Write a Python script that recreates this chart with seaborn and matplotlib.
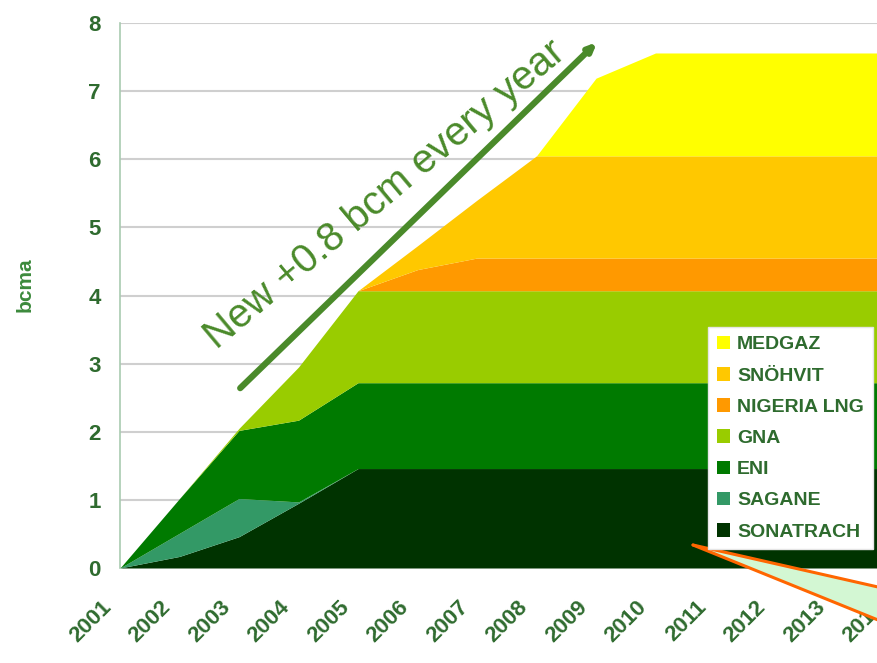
import numpy as np
import pandas as pd
import matplotlib
matplotlib.use("Agg")
import matplotlib.pyplot as plt
from matplotlib.patches import Polygon
from matplotlib.transforms import ScaledTranslation
import seaborn as sns

years = list(range(2001, 2015))
sonatrach = [0, 0.17, 0.46, 0.95, 1.46, 1.46, 1.46, 1.46, 1.46, 1.46, 1.46, 1.46, 1.46, 1.46]
sagane    = [0, 0.34, 0.56, 0.02, 0, 0, 0, 0, 0, 0, 0, 0, 0, 0]
eni       = [0, 0.51, 1.00, 1.20, 1.26, 1.26, 1.26, 1.26, 1.26, 1.26, 1.26, 1.26, 1.26, 1.26]
gna       = [0, 0, 0.03, 0.78, 1.35, 1.35, 1.35, 1.35, 1.35, 1.35, 1.35, 1.35, 1.35, 1.35]
nigeria   = [0, 0, 0, 0, 0, 0.31, 0.48, 0.48, 0.48, 0.48, 0.48, 0.48, 0.48, 0.48]
snohvit   = [0, 0, 0, 0, 0, 0.35, 0.85, 1.50, 1.50, 1.50, 1.50, 1.50, 1.50, 1.50]
medgaz    = [0, 0, 0, 0, 0, 0, 0, 0, 1.14, 1.51, 1.51, 1.51, 1.51, 1.51]

series_names = ["SONATRACH", "SAGANE", "ENI", "GNA", "NIGERIA LNG", "SNÖHVIT", "MEDGAZ"]
series_values = [sonatrach, sagane, eni, gna, nigeria, snohvit, medgaz]
colors = ["#003300", "#339966", "#007A00", "#99CC00", "#FF9900", "#FFC800", "#FFFF00"]

y_ticks = list(range(0, 9))
annotation_text = "New +0.8 bcm every year"

df = pd.DataFrame({"year": years})
for n, v in zip(series_names, series_values):
    df[n] = v

sns.set_style("white")
plt.rcParams["font.family"] = ["Liberation Sans", "DejaVu Sans"]

tick_green = "#2F6B2F"
text_green = "#4A8A2A"

fig = plt.figure(figsize=(8.78, 6.63), dpi=100)
W, H = 878, 663
left_px, right_px, top_px, bot_px = 120, 893.5, 23, 568
ax = fig.add_axes([left_px / W, 1 - bot_px / H, (right_px - left_px) / W, (bot_px - top_px) / H])

ax.stackplot(df["year"], *[df[n] for n in series_names], colors=colors,
             labels=series_names, linewidth=0, zorder=2)

ax.set_xlim(2001, 2014)
ax.set_ylim(0, 8)
ax.set_yticks(y_ticks)
ax.set_xticks(years)
ax.grid(axis="y", color="#CFCFCF", linewidth=1.5, zorder=0)
ax.set_axisbelow(True)

for s in ["top", "right", "bottom"]:
    ax.spines[s].set_visible(False)
ax.spines["left"].set_color("#A9CBB0")
ax.spines["left"].set_linewidth(1.2)

ax.tick_params(axis="y", length=7, color="#BBBBBB", width=1.2, pad=7,
               labelsize=16, labelcolor=tick_green)
ax.tick_params(axis="x", length=5, color="#CCCCCC", width=1.2, pad=21,
               labelsize=16, labelcolor=tick_green)
for lbl in ax.get_yticklabels():
    lbl.set_fontweight("bold")
shift = ScaledTranslation(-12 / 100, 0, fig.dpi_scale_trans)
for lbl in ax.get_xticklabels():
    lbl.set_fontweight("bold")
    lbl.set_rotation(45)
    lbl.set_ha("right")
    lbl.set_va("center")
    lbl.set_rotation_mode("anchor")
    lbl.set_transform(lbl.get_transform() + shift)

fig.text(25 / W, 1 - 285 / H, "bcma", rotation=90, ha="center", va="center",
         fontsize=15, fontweight="bold", color="#3C8A3C")

# arrow + text
ax.annotate("", xy=(2009.02, 7.72), xytext=(2003.02, 2.64),
            arrowprops=dict(arrowstyle="-|>,head_length=0.45,head_width=0.2",
                            color=text_green, lw=4.5, shrinkA=0, shrinkB=0),
            zorder=5)
ax.text(2002.63, 3.20, annotation_text, rotation=40, ha="left", va="baseline",
        fontsize=29, color=text_green, zorder=5, rotation_mode="anchor")

# legend
handles, labels = ax.get_legend_handles_labels()
leg = fig.legend(handles[::-1], labels[::-1], loc="upper left",
                 bbox_to_anchor=(708 / W, 1 - 327 / H), frameon=True,
                 fancybox=False, framealpha=1, edgecolor="#E5E5E5",
                 fontsize=14, handlelength=0.7, handleheight=0.7,
                 handletextpad=0.35, labelspacing=0.7, borderpad=0.45,
                 borderaxespad=0)
for t in leg.get_texts():
    t.set_fontweight("bold")
    t.set_color("#2E6B2E")

# callout in the corner
poly = Polygon([(693 / W, 1 - 545 / H), (W / W, 1 - 587 / H), (W / W, 1 - 620 / H)],
               closed=True, transform=fig.transFigure, facecolor="#D3F7D3",
               edgecolor="none", zorder=3)
fig.add_artist(poly)
for yend in (587, 620):
    fig.add_artist(plt.Line2D([693 / W, 1.0], [1 - 545 / H, 1 - yend / H],
                              transform=fig.transFigure, color="#FF6600", lw=2.2, zorder=4))

fig.savefig("out.png", dpi=100)
